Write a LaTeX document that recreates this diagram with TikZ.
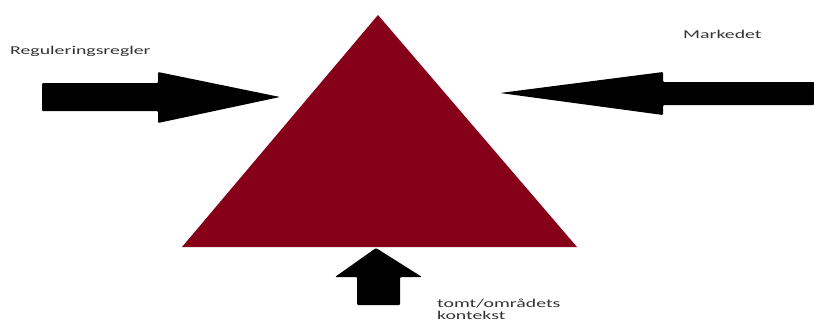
\documentclass[tikz,border=0pt]{standalone}
\usepackage{fontspec}
\setmainfont{Carlito}
\definecolor{trired}{HTML}{850018}
\newcommand{\widetext}[1]{\scalebox{1.65}[1]{#1}}
\begin{document}
\begin{tikzpicture}[x=1pt,y=-1pt]
  \tikzset{
    blockarrow/.style={fill=black, rounded corners=1pt},
    lbl/.style={font=\fontsize{12}{12.5}\selectfont, text=black!80, inner sep=0pt, anchor=base west}
  }
  \useasboundingbox (0,0) rectangle (814,324);
  % Triangle
  \coordinate (top) at (378,15);
  \coordinate (bl) at (182,247);
  \coordinate (br) at (577,247);
  \fill[trired] (top) -- (br) -- (bl) -- cycle;

  % Arrows
  \fill[blockarrow] (42,83) -- (158,83) -- (158,72) -- (280,97) -- (158,123) -- (158,111) -- (42,111) -- cycle;
  \fill[blockarrow] (814,82) -- (663,82) -- (663,72) -- (500,93) -- (663,115) -- (663,105) -- (814,105) -- cycle;
  \fill[blockarrow] (357,305) -- (357,277) -- (335,277) -- (376,248) -- (422,277) -- (400,277) -- (400,305) -- cycle;

  % Labels
  \node[lbl] (regler) at (10,54) {\widetext{Reguleringsregler}};
  \node[lbl] (marked) at (683,38) {\widetext{Markedet}};
  \node[lbl] (tomt) at (437,307) {\widetext{\begin{tabular}[t]{@{}l@{}}tomt/områdets\\kontekst\end{tabular}}};
\end{tikzpicture}
\end{document}
